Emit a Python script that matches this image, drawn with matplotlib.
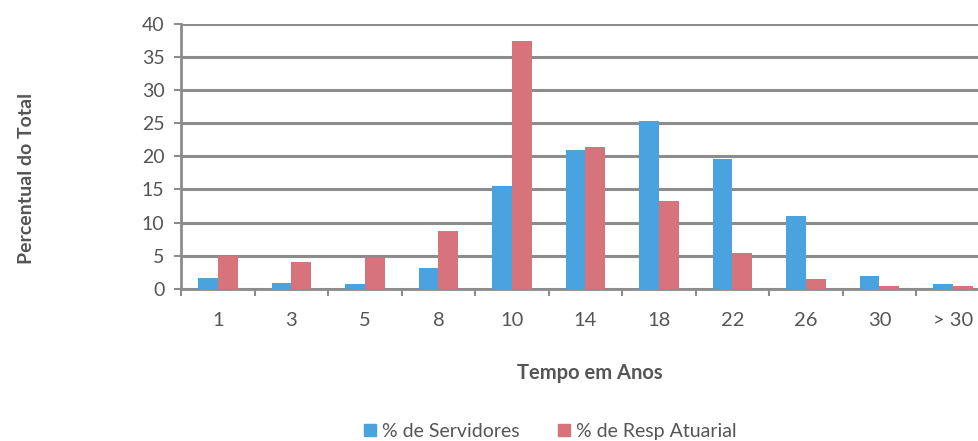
import matplotlib
matplotlib.use("Agg")
import matplotlib.pyplot as plt
import numpy as np
from matplotlib.patches import Patch

categories = ["1", "3", "5", "8", "10", "14", "18", "22", "26", "30", "> 30"]
servidores = [1.6, 0.9, 0.7, 3.1, 15.5, 20.9, 25.3, 19.6, 11.0, 2.0, 0.7]
resp_atuarial = [5.0, 4.1, 4.6, 8.8, 37.4, 21.4, 13.2, 5.4, 1.5, 0.4, 0.5]
yticks = [0, 5, 10, 15, 20, 25, 30, 35, 40]

blue = "#4aa3df"
red = "#d6737b"
grid_c = "#8c8c8c"
text_c = "#555555"

plt.rcParams["font.family"] = ["Lato", "DejaVu Sans"]

fig = plt.figure(figsize=(9.79, 4.41), dpi=100)
ax = fig.add_axes([0.185, 0.345, 0.826, 0.601])

x = np.arange(len(categories))
w = 0.27
ax.bar(x - w / 2, servidores, w, color=blue, zorder=3, label="% de Servidores")
ax.bar(x + w / 2, resp_atuarial, w, color=red, zorder=3, label="% de Resp Atuarial")

ax.set_xlim(-0.5, len(categories) - 0.5)
ax.set_ylim(0, 40)
ax.set_yticks(yticks)
ax.set_yticklabels([str(v) for v in yticks], fontsize=14, color=text_c)
ax.set_xticks(x)
ax.set_xticklabels(categories, fontsize=14.5, color=text_c)
ax.tick_params(axis="x", which="major", length=0, pad=17)
ax.set_xticks(np.arange(-0.5, len(categories), 1.0), minor=True)
ax.tick_params(axis="x", which="minor", length=5, width=1.5, color=grid_c, direction="out")
ax.tick_params(axis="y", length=5, width=1.5, color=grid_c, pad=7)

ax.yaxis.grid(True, color=grid_c, linewidth=2.2, zorder=0)
ax.set_axisbelow(True)
for s in ["top", "right"]:
    ax.spines[s].set_visible(False)
ax.spines["left"].set_color(grid_c)
ax.spines["left"].set_linewidth(2)
ax.spines["bottom"].set_color(grid_c)
ax.spines["bottom"].set_linewidth(2)

ax.set_xlabel("Tempo em Anos", fontsize=14.5, fontweight="bold", color=text_c, labelpad=20)
ax.xaxis.set_label_coords(0.505, -0.28)
fig.text(0.027, 0.596, "Percentual do Total", rotation=90, fontsize=14,
         fontweight="bold", color=text_c, ha="center", va="center")

handles = [Patch(color=blue, label="% de Servidores"), Patch(color=red, label="% de Resp Atuarial")]
fig.legend(handles=handles, loc="center", bbox_to_anchor=(0.562, 0.022), ncol=2, frameon=False,
           fontsize=14, handlelength=0.6, handleheight=0.6, handletextpad=0.3, columnspacing=2.0,
           labelcolor=text_c)

fig.savefig("out.png", dpi=100)
